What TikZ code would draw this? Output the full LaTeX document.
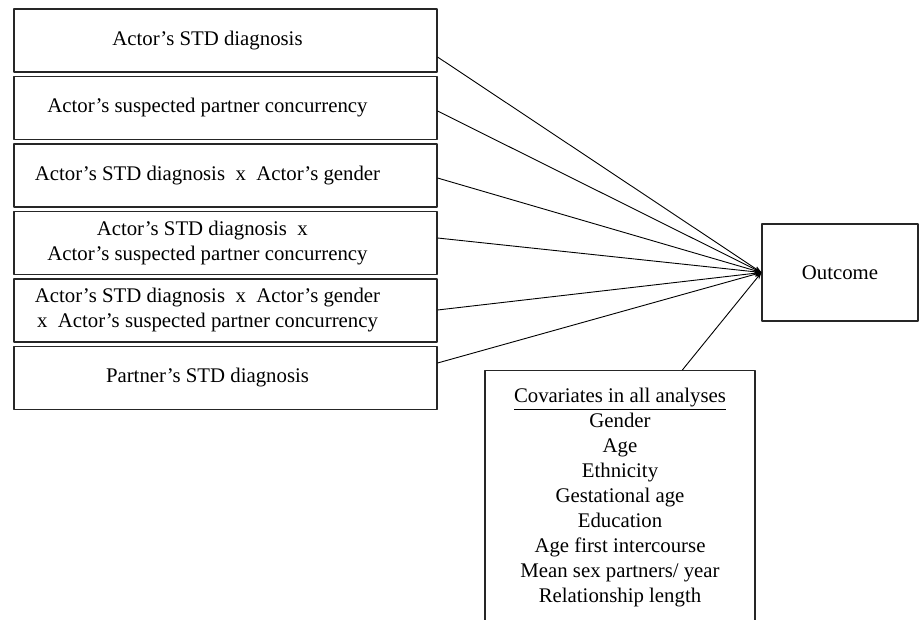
\documentclass[tikz,border=0pt]{standalone}
\usepackage{fontspec}
\setmainfont{Liberation Serif}
\usetikzlibrary{arrows.meta,calc}
\tikzset{
  every picture/.style={line join=round, >={Stealth[length=7pt,width=5pt]}},
  txt/.style={font=\fontsize{20.8}{25}\selectfont},
  predbox/.style={txt, draw=black!85, line width=1.1pt, minimum height=63pt, inner sep=0pt,
    execute at begin node={\begin{minipage}{387pt}\centering},
    execute at end node={\end{minipage}\hspace{36pt}}},
  outbox/.style={txt, draw=black!85, line width=1.1pt, minimum width=156pt, minimum height=97pt, inner sep=0pt},
  covbox/.style={txt, draw=black!85, line width=1.1pt, minimum width=270pt, inner xsep=0pt, inner ysep=18pt, align=center, anchor=north},
  link/.style={->, line width=0.9pt},
}
\newcommand{\xx}{\enspace x\enspace}

\begin{document}
\begin{tikzpicture}[x=1pt,y=-1pt]
\useasboundingbox (0,0) rectangle (919,619);
% predictors
\node[predbox] (stdA) at (225.5,40.5) {Actor's STD diagnosis};
\node[predbox] (concA) at (225.5,108) {Actor's suspected partner concurrency};
\node[predbox] (stdxgen) at (225.5,175.5) {Actor's STD diagnosis\xx Actor's gender};
\node[predbox] (stdxconc) at (225.5,243) {Actor's STD diagnosis\xx\\ Actor's suspected partner concurrency};
\node[predbox] (stdxgenxconc) at (225.5,310.5) {Actor's STD diagnosis\xx Actor's gender\\ x\enspace Actor's suspected partner concurrency};
\node[predbox] (stdP) at (225.5,378) {Partner's STD diagnosis};
% outcome and covariates
\node[outbox] (outcome) at (840,272.5) {Outcome};
\node[covbox] (cov) at (620,370) {\underline{Covariates in all analyses}\\ Gender\\ Age\\ Ethnicity\\ Gestational age\\ Education\\ Age first intercourse\\ Mean sex partners/ year\\ Relationship length};
% connectors
\foreach \n/\dy in {stdA/16.5,concA/3,stdxgen/2.5,stdxconc/-5,stdxgenxconc/-0.5,stdP/-15}
  \draw[link] ($(\n.east)+(0,\dy)$) -- (outcome.west);
\draw[link] ($(cov.north west)!0.73!(cov.north east)$) -- (outcome.west);
\end{tikzpicture}
\end{document}
